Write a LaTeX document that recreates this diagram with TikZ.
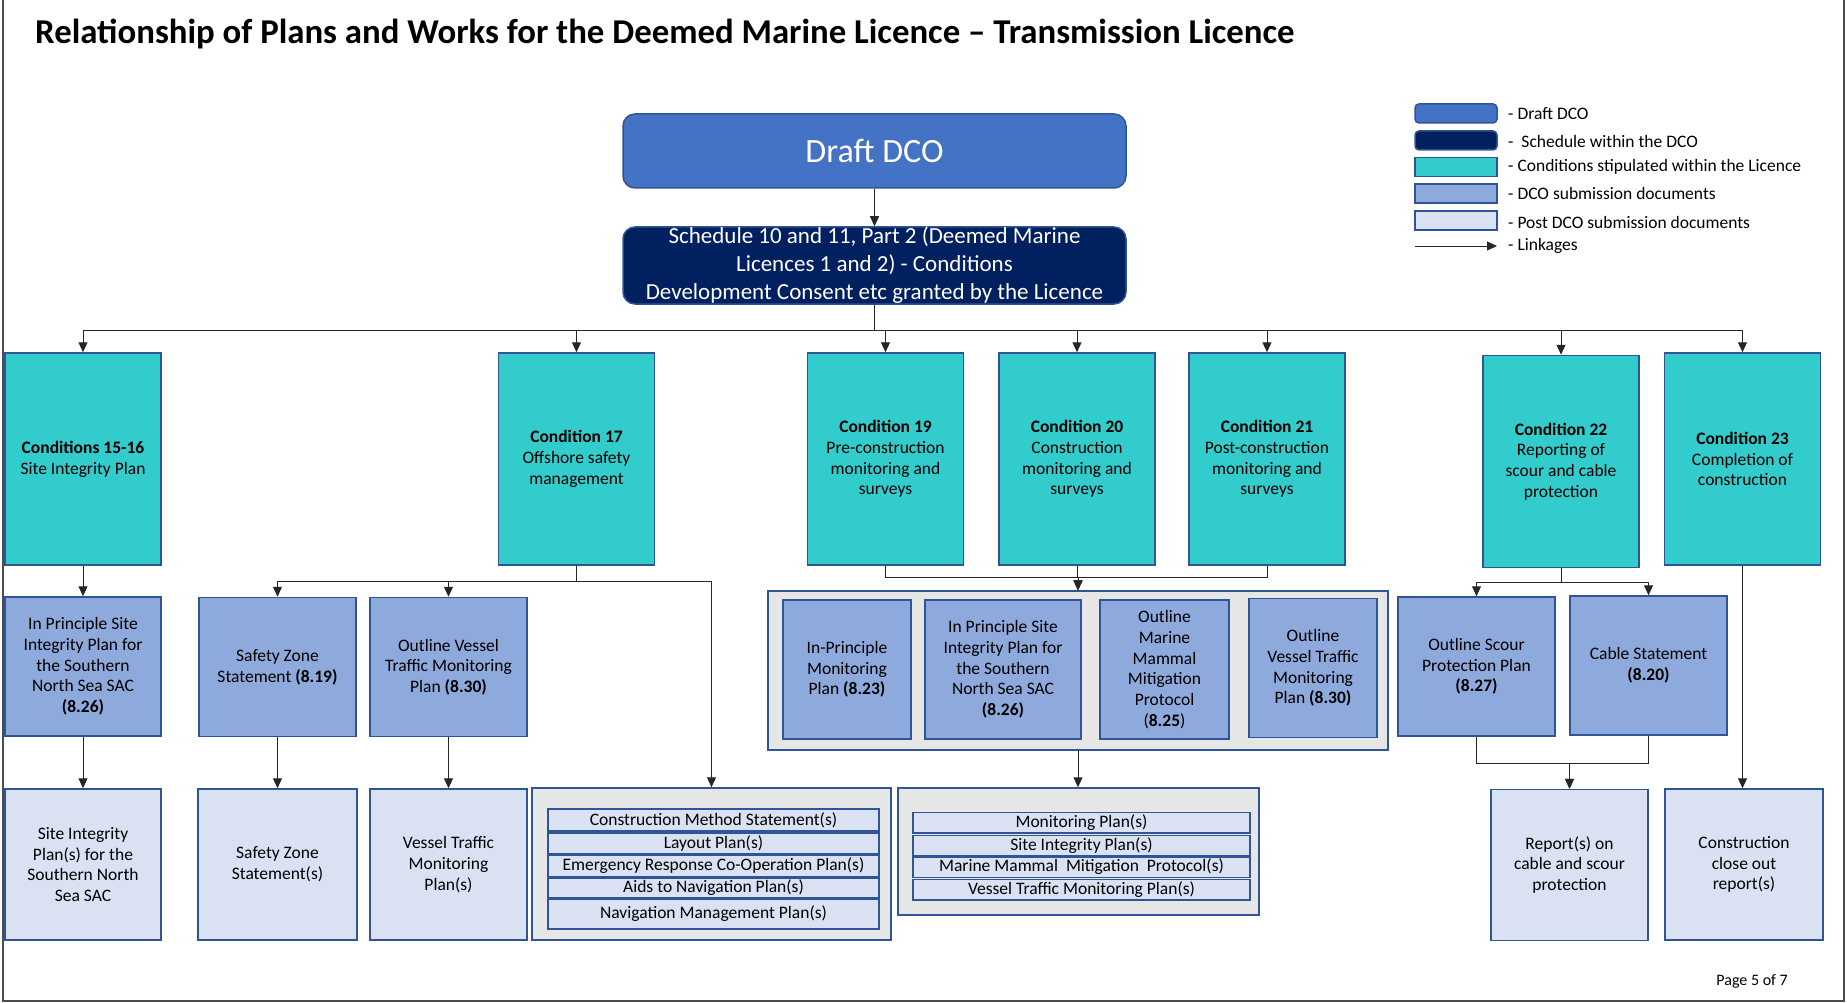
\documentclass[tikz,border=0pt]{standalone}
\usepackage{fontspec}
\setmainfont{Carlito}
\usepackage{xcolor}
\usepackage{tikz}
\usetikzlibrary{arrows.meta}

\definecolor{dcoblue}{HTML}{4472C4}
\definecolor{schednavy}{HTML}{002060}
\definecolor{condteal}{HTML}{33CCCC}
\definecolor{subblue}{HTML}{8EA9DB}
\definecolor{postblue}{HTML}{D9E1F2}
\definecolor{edgeblue}{HTML}{2F5597}
\definecolor{groupgrey}{HTML}{E7E6E6}

\begin{document}
\begin{tikzpicture}[x=1pt,y=-1pt,
    every node/.style={font=\fontsize{17.5}{20.7}\selectfont,align=center,inner sep=0pt},
    cond/.style={draw=edgeblue,fill=condteal,line width=1.5pt,minimum width=156pt,minimum height=212pt},
    subdoc/.style={draw=edgeblue,fill=subblue,line width=1.5pt,minimum height=139pt},
    postdoc/.style={draw=edgeblue,fill=postblue,line width=1.5pt,minimum height=151pt},
    group/.style={draw=edgeblue,fill=groupgrey,line width=1.5pt},
    rowbox/.style={draw=edgeblue,fill=postblue,line width=1.5pt},
    swatch/.style={draw=edgeblue,line width=1.5pt,minimum width=82pt,minimum height=19pt},
    link/.style={-{Triangle[length=10pt,width=9pt]},line width=1pt,black!85}]
    \useasboundingbox (0,0) rectangle (1847,1003);
    % page frame
    \draw[line width=1.5pt,black!70] (3,0) -- (3,1001) -- (1844,1001) -- (1844,0);
    \node[anchor=west,font=\bfseries\fontsize{34.8}{40}\selectfont] (title) at (35,34)
      {Relationship of Plans and Works for the Deemed Marine Licence – Transmission Licence};

    % top of the tree
    \node[draw=edgeblue,fill=dcoblue,rounded corners=12pt,line width=1.5pt,minimum width=503pt,minimum height=74pt,
      text=white,font=\fontsize{34}{40}\selectfont] (dco) at (874.5,151) {Draft DCO};
    \node[draw=edgeblue,fill=schednavy,rounded corners=12pt,line width=1.5pt,minimum width=503pt,minimum height=77pt,
      text=white,font=\fontsize{23}{28}\selectfont] (sched) at (874.5,265.5)
      {\vphantom{g}\\[-24pt]Schedule 10 and 11, Part 2 (Deemed Marine\\Licences 1 and 2) - Conditions\\Development Consent etc granted by the Licence};
    \draw[link] (dco) -- (sched);
    \coordinate (bus) at (874.5,330);

    % conditions
    \node[cond] (c15) at (83,459) {\textbf{Conditions 15-16}\\Site Integrity Plan};
    \node[cond] (c17) at (576.5,459) {\textbf{Condition 17}\\Offshore safety\\management};
    \node[cond] (c19) at (885.5,459) {\textbf{Condition 19}\\Pre-construction\\monitoring and\\surveys};
    \node[cond] (c20) at (1077,459) {\textbf{Condition 20}\\Construction\\monitoring and\\surveys};
    \node[cond] (c21) at (1267,459) {\textbf{Condition 21}\\Post-construction\\monitoring and\\surveys};
    \node[cond] (c22) at (1561,461.5) {\textbf{Condition 22}\\Reporting of\\scour and cable\\protection};
    \node[cond] (c23) at (1742.5,459) {\textbf{Condition 23}\\Completion of\\construction};

    % DCO submission documents
    \node[subdoc,minimum width=156pt] (ipsip) at (83,666.5) {In Principle Site\\Integrity Plan for\\the Southern\\North Sea SAC\\\textbf{(8.26)}};
    \node[subdoc,minimum width=157pt] (szs) at (277.5,667) {Safety Zone\\Statement \textbf{(8.19)}};
    \node[subdoc,minimum width=157pt] (ovtmp) at (448.5,667) {Outline Vessel\\Traffic Monitoring\\Plan \textbf{(8.30)}};
    \node[group,minimum width=620pt,minimum height=159pt] (grpA) at (1078,670.5) {};
    \node[subdoc,minimum width=128pt] (ipmp) at (847,669.5) {In-Principle\\Monitoring\\Plan \textbf{(8.23)}};
    \node[subdoc,minimum width=156pt] (ipsipb) at (1003,669.5) {In Principle Site\\Integrity Plan for\\the Southern\\North Sea SAC\\\textbf{(8.26)}};
    \node[subdoc,minimum width=129pt] (ommmp) at (1164.5,669.5) {Outline\\Marine\\Mammal\\Mitigation\\Protocol\\(\textbf{8.25})};
    \node[subdoc,minimum width=128pt] (ovtmpb) at (1313,668) {Outline\\Vessel Traffic\\Monitoring\\Plan \textbf{(8.30)}};
    \node[subdoc,minimum width=157pt] (ospp) at (1476.5,666.5) {Outline Scour\\Protection Plan\\\textbf{(8.27)}};
    \node[subdoc,minimum width=157pt] (cable) at (1648.5,665.5) {Cable Statement\\\textbf{(8.20)}};

    % post DCO submission documents
    \node[postdoc,minimum width=156pt] (sips) at (83,864.5) {Site Integrity\\Plan(s) for the\\Southern North\\Sea SAC};
    \node[postdoc,minimum width=159pt] (szss) at (277.5,864.5) {Safety Zone\\Statement(s)};
    \node[postdoc,minimum width=157pt] (vtmps) at (448.5,864.5) {Vessel Traffic\\Monitoring\\Plan(s)};
    \node[group,minimum width=359pt,minimum height=152pt] (grpB) at (711.5,864) {};
    \node[rowbox,minimum width=331pt,minimum height=22pt] (cms1) at (713.5,820) {Construction Method Statement(s)};
    \node[rowbox,minimum width=331pt,minimum height=21pt] (cms2) at (713.5,843.5) {Layout Plan(s)};
    \node[rowbox,minimum width=331pt,minimum height=22pt] (cms3) at (713.5,866) {Emergency Response Co-Operation Plan(s)};
    \node[rowbox,minimum width=331pt,minimum height=20pt] (cms4) at (713.5,888) {Aids to Navigation Plan(s)};
    \node[rowbox,minimum width=331pt,minimum height=30pt] (cms5) at (713.5,914) {Navigation Management Plan(s)};
    \node[group,minimum width=361pt,minimum height=127pt] (grpC) at (1078.5,851.5) {};
    \node[rowbox,minimum width=337pt,minimum height=20.5pt] (mon1) at (1081.5,822.5) {Monitoring Plan(s)};
    \node[rowbox,minimum width=337pt,minimum height=20.5pt] (mon2) at (1081.5,845.5) {Site Integrity Plan(s)};
    \node[rowbox,minimum width=337pt,minimum height=20.5pt] (mon3) at (1081.5,867) {Marine Mammal\ \ Mitigation\ \ Protocol(s)};
    \node[rowbox,minimum width=337pt,minimum height=20.5pt] (mon4) at (1081.5,889.5) {Vessel Traffic Monitoring Plan(s)};
    \node[postdoc,minimum width=157pt] (reports) at (1569.5,865) {Report(s) on\\cable and scour\\protection};
    \node[postdoc,minimum width=158pt] (closeout) at (1744,864.5) {Construction\\close out\\report(s)};

    % linkages
    \draw[link] (sched.south) |- (bus) -| (c15.north);
    \draw[link] (sched.south) |- (bus) -| (c17.north);
    \draw[link] (sched.south) |- (bus) -| (c19.north);
    \draw[link] (sched.south) |- (bus) -| (c20.north);
    \draw[link] (sched.south) |- (bus) -| (c21.north);
    \draw[link] (sched.south) |- (bus) -| (c22.north);
    \draw[link] (sched.south) |- (bus) -| (c23.north);
    \draw[link] (c15) -- (ipsip);
    \draw[link] (ipsip) -- (sips);
    \draw[link] (c17.south) -- ++(0,16) -| (szs.north);
    \draw[link] (c17.south) -- ++(0,16) -| (ovtmp.north);
    \draw[link] (c17.south) -- ++(0,16) -| (grpB.north);
    \draw[link] (szs) -- (szss);
    \draw[link] (ovtmp) -- (vtmps);
    \draw[link] (c19.south) -- ++(0,12) -| (grpA.north);
    \draw[link] (c20.south) -- ++(0,12) -| (grpA.north);
    \draw[link] (c21.south) -- ++(0,12) -| (grpA.north);
    \draw[link] (grpA.south) -- (grpA.south |- grpC.north);
    \draw[link] (c22.south) -- ++(0,14) -| (ospp.north);
    \draw[link] (c22.south) -- ++(0,14) -| (cable.north);
    \draw[link] (ospp.south) -- ++(0,27) -| (reports.north);
    \draw[link] (cable.south) -- ++(0,28) -| (reports.north);
    \draw[link] (c23.south) -- (c23.south |- closeout.north);

    % legend
    \node[swatch,fill=dcoblue,rounded corners=4pt] (sw1) at (1456,113.5) {};
    \node[anchor=west] (leg1) at (1508,114) {- Draft DCO};
    \node[swatch,fill=schednavy,rounded corners=4pt] (sw2) at (1456,140.5) {};
    \node[anchor=west] (leg2) at (1508,141) {-~ Schedule within the DCO};
    \node[swatch,fill=condteal] (sw3) at (1456,167) {};
    \node[anchor=west] (leg3) at (1508,167) {- Conditions stipulated within the Licence};
    \node[swatch,fill=subblue] (sw4) at (1456,193.5) {};
    \node[anchor=west] (leg4) at (1508,193.5) {- DCO submission documents};
    \node[swatch,fill=postblue] (sw5) at (1456,220.5) {};
    \node[anchor=west] (leg5) at (1508,222) {- Post DCO submission documents};
    \coordinate (lkA) at (1415,246);
    \coordinate (lkB) at (1497,246);
    \draw[link] (lkA) -- (lkB);
    \node[anchor=west] (leg6) at (1508,246) {- Linkages};

    \node[anchor=east,font=\fontsize{16}{19}\selectfont] (page) at (1788,981) {Page 5 of 7};
  \end{tikzpicture}
\end{document}
